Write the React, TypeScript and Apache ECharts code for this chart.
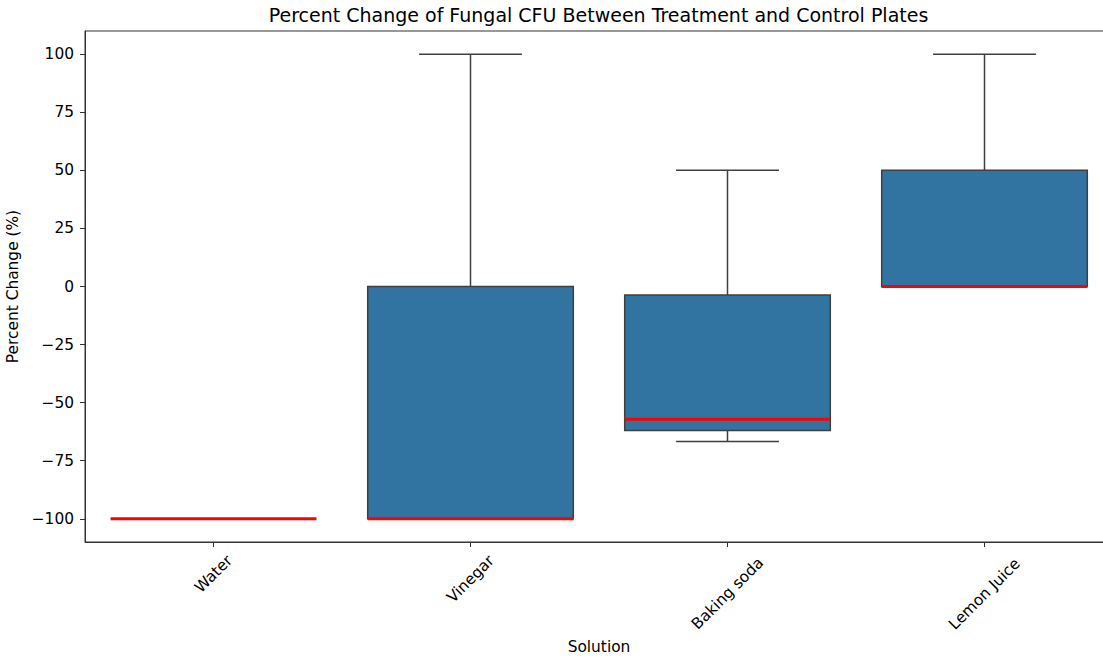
import React, { useEffect, useRef } from "react";
import * as echarts from "echarts";

const categories = ["Water", "Vinegar", "Baking soda", "Lemon Juice"];
const whiskerLow = [-100, -100, -66.7, 0];
const q1 = [-100, -100, -62, 0];
const medians = [-100, -100, -57.1, 0];
const q3 = [-100, 0, -3.7, 50];
const whiskerHigh = [-100, 100, 50, 100];
const yTicks = [-100, -75, -50, -25, 0, 25, 50, 75, 100];
// per-label downward shift (px) to mimic centred rotated labels
const labelShift = [0, 5, 19.5, 20];

const FONT = "DejaVu Sans";
const EDGE = "#3f3f3f";
const FS = 15.4;

export default function App() {
  const ref = useRef<HTMLDivElement>(null);
  useEffect(() => {
    document.body.style.margin = "0";
    const chart = echarts.init(ref.current!, null, { renderer: "svg" });
    const rich: any = {};
    categories.forEach((c, i) => {
      const p = labelShift[i] * 1.414;
      rich["l" + i] = {
        fontFamily: FONT,
        fontSize: FS,
        color: "#000",
        padding: [p, p, 0, 0],
      };
    });
    const data = categories.map((c, i) => [
      i,
      whiskerLow[i],
      q1[i],
      medians[i],
      q3[i],
      whiskerHigh[i],
    ]);
    chart.setOption({
      animation: false,
      title: {
        text: "Percent Change of Fungal CFU Between Treatment and Control Plates",
        left: 598.5,
        top: 5,
        padding: 0,
        textAlign: "center",
        textStyle: {
          fontFamily: FONT,
          fontSize: 19,
          fontWeight: "normal",
          color: "#000",
        },
      },
      grid: {
        left: 85,
        right: -10,
        top: 31,
        bottom: 117,
        show: true,
        borderColor: "#333",
        borderWidth: 1,
        containLabel: false,
        outerBoundsMode: "none",
      },
      xAxis: {
        type: "category",
        data: categories,
        boundaryGap: true,
        name: "Solution",
        nameLocation: "middle",
        nameGap: 96,
        nameTextStyle: { fontFamily: FONT, fontSize: FS, color: "#000" },
        axisLine: { show: true, onZero: false, lineStyle: { color: "#333", width: 1 } },
        axisTick: {
          show: true,
          alignWithLabel: true,
          length: 5,
          lineStyle: { color: "#333" },
        },
        axisLabel: {
          interval: 0,
          rotate: 45,
          align: "center",
          verticalAlign: "middle",
          margin: 32,
          fontFamily: FONT,
          fontSize: FS,
          color: "#000",
          formatter: (v: string) => {
            const i = categories.indexOf(v);
            return "{l" + i + "|" + v + "}";
          },
          rich,
        },
        splitLine: { show: false },
      },
      yAxis: {
        type: "value",
        min: -110,
        max: 110,
        name: "Percent Change (%)",
        nameLocation: "middle",
        nameGap: 60,
        nameTextStyle: { fontFamily: FONT, fontSize: FS, color: "#000" },
        axisLine: { show: true, onZero: false, lineStyle: { color: "#333", width: 1 } },
        axisTick: {
          show: true,
          length: 5,
          lineStyle: { color: "#333" },
          customValues: yTicks,
        },
        axisLabel: {
          margin: 11,
          fontFamily: FONT,
          fontSize: FS,
          color: "#000",
          customValues: yTicks,
          formatter: (v: number) => String(v).replace("-", "\u2212"),
        },
        splitLine: { show: false },
      },
      series: [
        {
          type: "custom",
          data,
          encode: { x: 0, y: [1, 2, 3, 4, 5] },
          renderItem: (params: any, api: any) => {
            const idx = api.value(0);
            const band = api.size([1, 0])[0];
            const boxW = band * 0.8;
            const capW = band * 0.4;
            const pLow = api.coord([idx, api.value(1)]);
            const pQ1 = api.coord([idx, api.value(2)]);
            const pMed = api.coord([idx, api.value(3)]);
            const pQ3 = api.coord([idx, api.value(4)]);
            const pHigh = api.coord([idx, api.value(5)]);
            const cx = pMed[0];
            const lineStyle = { stroke: EDGE, lineWidth: 1.5, fill: null };
            return {
              type: "group",
              children: [
                {
                  type: "line",
                  shape: { x1: cx, y1: pQ1[1], x2: cx, y2: pLow[1] },
                  style: lineStyle,
                },
                {
                  type: "line",
                  shape: { x1: cx, y1: pQ3[1], x2: cx, y2: pHigh[1] },
                  style: lineStyle,
                },
                {
                  type: "line",
                  shape: {
                    x1: cx - capW / 2,
                    y1: pLow[1],
                    x2: cx + capW / 2,
                    y2: pLow[1],
                  },
                  style: lineStyle,
                },
                {
                  type: "line",
                  shape: {
                    x1: cx - capW / 2,
                    y1: pHigh[1],
                    x2: cx + capW / 2,
                    y2: pHigh[1],
                  },
                  style: lineStyle,
                },
                {
                  type: "rect",
                  shape: {
                    x: cx - boxW / 2,
                    y: pQ3[1],
                    width: boxW,
                    height: pQ1[1] - pQ3[1],
                  },
                  style: { fill: "#3274a1", stroke: EDGE, lineWidth: 1.5 },
                },
                {
                  type: "line",
                  shape: {
                    x1: cx - boxW / 2,
                    y1: pMed[1],
                    x2: cx + boxW / 2,
                    y2: pMed[1],
                  },
                  style: { stroke: "#ff0000", lineWidth: 3, fill: null },
                },
              ],
            };
          },
        },
      ],
    });
    return () => chart.dispose();
  }, []);
  return (
    <div
      ref={ref}
      style={{ position: "absolute", left: 0, top: 0, width: 1103, height: 659 }}
    />
  );
}
